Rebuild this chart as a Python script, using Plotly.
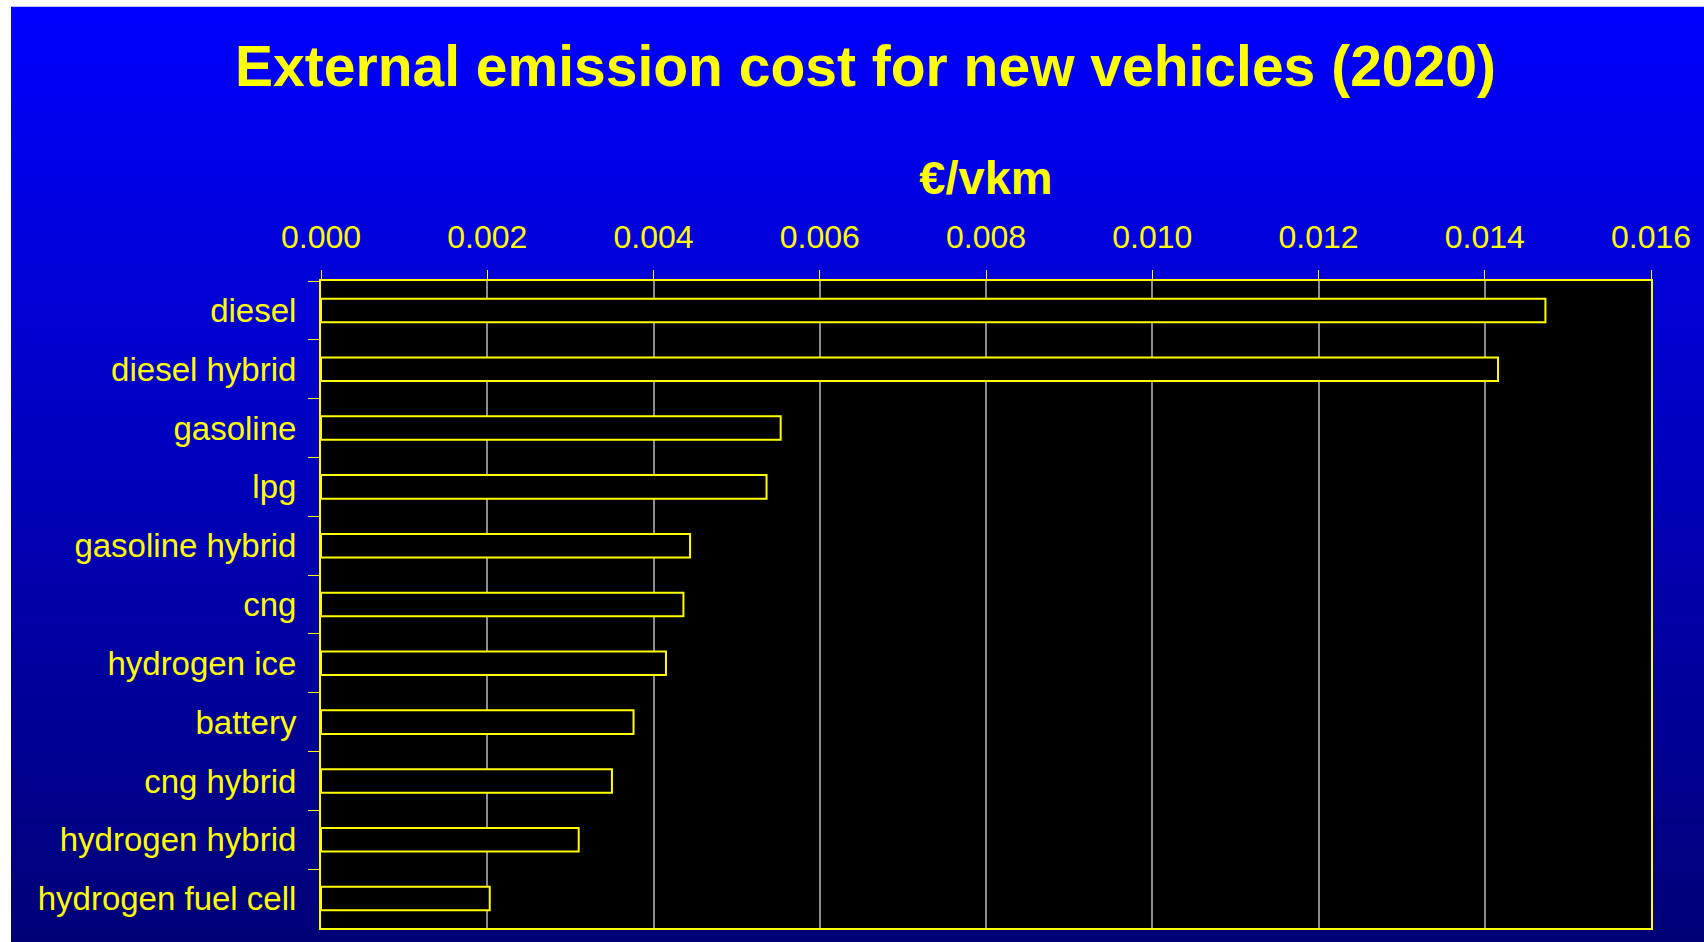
import plotly.graph_objects as go

# Fuel / drivetrain types, top to bottom
vehicles = [
    "diesel", "diesel hybrid", "gasoline", "lpg", "gasoline hybrid", "cng",
    "hydrogen ice", "battery", "cng hybrid", "hydrogen hybrid", "hydrogen fuel cell",
]
# External emission cost in €/vkm (2020)
cost_eur_per_vkm = [
    0.01473, 0.01416, 0.00553, 0.00536, 0.00444, 0.00436,
    0.00415, 0.00376, 0.00350, 0.00310, 0.00203,
]
x_ticks = [0.000, 0.002, 0.004, 0.006, 0.008, 0.010, 0.012, 0.014, 0.016]

W, H = 1704, 942
ML, MR, MT, MB = 321, 53, 281, 12
plot_w = W - ML - MR
plot_h = H - MT - MB

YELLOW = "#FFFF00"
FONT = "Liberation Sans, Arial, sans-serif"


def px_to_paper_x(px):
    return (px - ML) / plot_w


def px_to_paper_y(py):
    return (H - MB - py) / plot_h


# Blue vertical gradient behind the chart (slide background).
# Each band runs to the bottom edge so that later bands overlap earlier ones
# and no seams show between them.
shapes = []
top_px, bottom_px, left_px = 6, H, 11
step = 4
py = top_px
while py < bottom_px:
    py2 = min(py + step, bottom_px)
    t = ((py + py2) / 2 - top_px) / (bottom_px - top_px)
    blue = int(round(255 - 137 * t))
    shapes.append(dict(
        type="rect", xref="paper", yref="paper", layer="below",
        x0=px_to_paper_x(left_px), x1=px_to_paper_x(W + 2),
        y0=px_to_paper_y(bottom_px + 2), y1=px_to_paper_y(py),
        fillcolor=f"rgb(0,0,{blue})", line=dict(width=0),
    ))
    py = py2
# Black plotting area on top of the gradient
shapes.append(dict(
    type="rect", xref="paper", yref="paper", layer="below",
    x0=0, x1=1, y0=0, y1=1, fillcolor="black", line=dict(width=0),
))

fig = go.Figure(go.Bar(
    y=vehicles,
    x=cost_eur_per_vkm,
    orientation="h",
    width=0.4,
    marker=dict(color="black", line=dict(color=YELLOW, width=2)),
    hoverinfo="x+y",
))

fig.update_layout(
    width=W, height=H,
    margin=dict(l=ML, r=MR, t=MT, b=MB, pad=0),
    paper_bgcolor="white",
    plot_bgcolor="black",
    showlegend=False,
    shapes=shapes,
    font=dict(family=FONT, color=YELLOW),
    title=dict(
        text="<b>External emission cost for new vehicles (2020)</b>",
        x=865.5 / W, xanchor="center",
        y=1 - 66 / H, yanchor="middle",
        font=dict(family=FONT, size=57, color=YELLOW),
    ),
    xaxis=dict(
        side="top",
        range=[0, 0.016],
        tickvals=x_ticks,
        tickformat=".3f",
        showgrid=True, gridcolor="#8c8c8c", gridwidth=2,
        zeroline=False,
        showline=True, linecolor=YELLOW, linewidth=2, mirror=True,
        ticks="outside", ticklen=9, tickcolor=YELLOW, tickwidth=1,
        ticklabelstandoff=9,
        tickfont=dict(family=FONT, size=32, color=YELLOW),
        title=dict(text="<b>€/vkm</b>", font=dict(family=FONT, size=47, color=YELLOW), standoff=10),
        fixedrange=True,
    ),
    yaxis=dict(
        categoryorder="array", categoryarray=vehicles,
        autorange="reversed",
        tickson="boundaries",
        ticks="outside", ticklen=11, tickcolor=YELLOW, tickwidth=1,
        ticklabelstandoff=16,
        showgrid=False, zeroline=False,
        showline=True, linecolor=YELLOW, linewidth=2, mirror=True,
        tickfont=dict(family=FONT, size=33, color=YELLOW),
        fixedrange=True,
    ),
)

fig.write_html("out.html")
